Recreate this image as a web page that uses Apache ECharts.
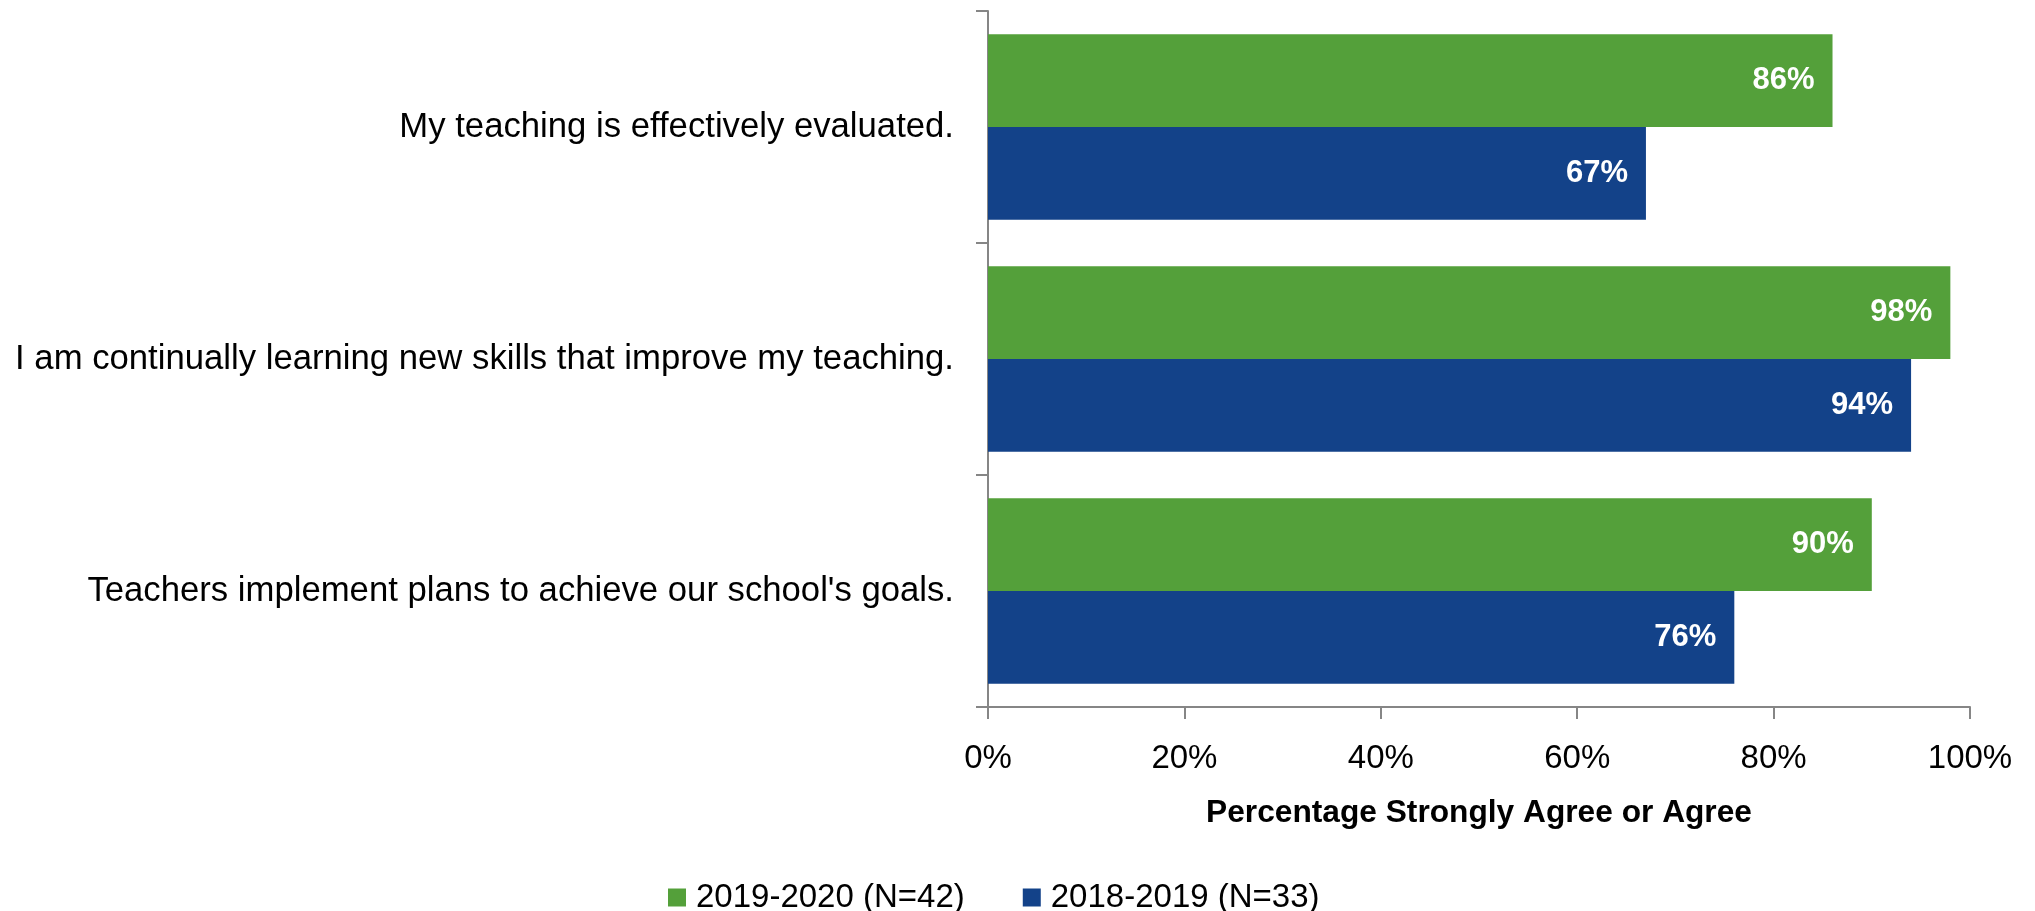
<!DOCTYPE html>
<html>
<head>
<meta charset="utf-8">
<script src="https://cdn.jsdelivr.net/npm/echarts@6/dist/echarts.min.js"></script>
<style>
html,body{margin:0;padding:0;background:#fff;}
#chart{width:2035px;height:911px;}
</style>
</head>
<body>
<div id="chart"></div>
<script>
const categories = [
  "My teaching is effectively evaluated.",
  "I am continually learning new skills that improve my teaching.",
  "Teachers implement plans to achieve our school's goals."
];
const seriesNames = ["2019-2020 (N=42)", "2018-2019 (N=33)"];
const values2019_2020 = [86, 98, 90];
const values2018_2019 = [67, 94, 76];
const xTicks = [0, 20, 40, 60, 80, 100];
const axisTitle = "Percentage Strongly Agree or Agree";

const FONT = "'Liberation Sans', Arial, sans-serif";
const chart = echarts.init(document.getElementById('chart'), null, {renderer: 'canvas'});
const labelStyle = {
  show: true,
  position: 'insideRight',
  distance: 18,
  color: '#ffffff',
  fontWeight: 'bold',
  fontSize: 31,
  fontFamily: FONT,
  formatter: p => p.value + '%'
};
chart.setOption({
  animation: false,
  backgroundColor: '#ffffff',
  textStyle: {fontFamily: FONT},
  grid: {left: 988, right: 65, top: 11, bottom: 204, containLabel: false},
  legend: {
    data: seriesNames,
    top: 876,
    left: 663,
    itemWidth: 18,
    itemHeight: 18,
    itemGap: 58,
    icon: 'rect',
    textStyle: {fontSize: 33, color: '#000', fontFamily: FONT, padding: [0, 0, 0, 5]}
  },
  xAxis: {
    type: 'value',
    min: xTicks[0],
    max: xTicks[xTicks.length - 1],
    interval: 20,
    name: axisTitle,
    nameLocation: 'middle',
    nameGap: 90,
    nameTextStyle: {fontSize: 31.7, fontWeight: 'bold', color: '#000', fontFamily: FONT},
    axisLine: {show: true, lineStyle: {color: '#868686', width: 2}},
    axisTick: {show: true, length: 12, lineStyle: {color: '#868686', width: 2}},
    axisLabel: {margin: 35, fontSize: 33, color: '#000', fontFamily: FONT, formatter: v => v + '%'},
    splitLine: {show: false}
  },
  yAxis: {
    type: 'category',
    data: categories,
    inverse: true,
    axisLine: {show: true, lineStyle: {color: '#868686', width: 2}},
    axisTick: {show: true, length: 12, lineStyle: {color: '#868686', width: 2}},
    axisLabel: {margin: 34, fontSize: 34.7, color: '#000', fontFamily: FONT}
  },
  series: [
    {
      name: seriesNames[0],
      type: 'bar',
      data: values2019_2020,
      barGap: '0%',
      barCategoryGap: '20%',
      itemStyle: {color: '#54A03A'},
      label: labelStyle
    },
    {
      name: seriesNames[1],
      type: 'bar',
      data: values2018_2019,
      barGap: '0%',
      barCategoryGap: '20%',
      itemStyle: {color: '#134289'},
      label: labelStyle
    }
  ]
});
</script>
</body>
</html>
